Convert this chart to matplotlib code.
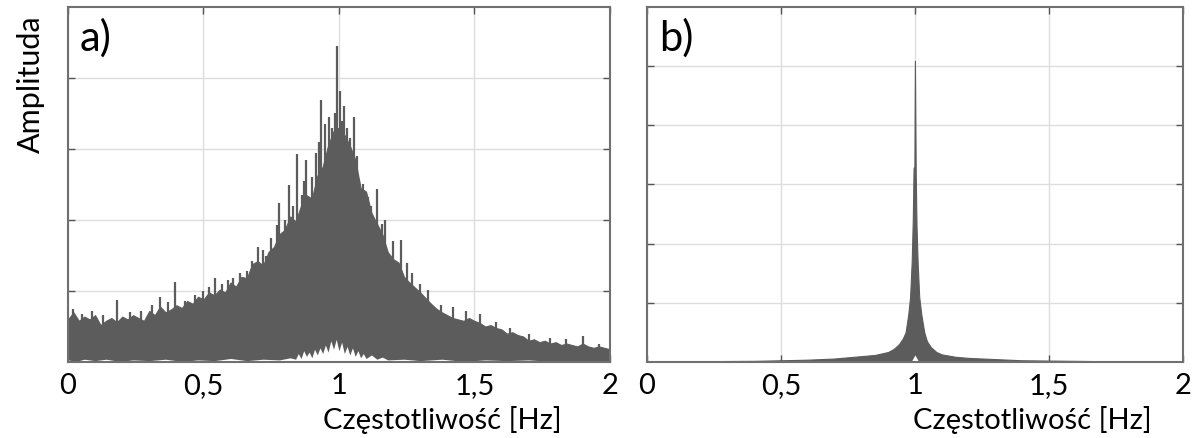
import numpy as np
import matplotlib.pyplot as plt

plt.rcParams['font.family'] = ['Lato', 'DejaVu Sans']

# --- panel a: broad spectrum (upper envelope + white gap under it)
freq_a = np.round(np.arange(0, 2.001, 0.02), 2)
upper_a = [0.60, 0.70, 0.58, 0.64, 0.60, 0.66, 0.52, 0.58, 0.62, 0.56,
           0.64, 0.60, 0.66, 0.62, 0.58, 0.72, 0.66, 0.78, 0.70, 0.74,
           0.80, 0.76, 0.86, 0.82, 0.92, 0.88, 0.98, 0.94, 1.02, 0.98,
           1.12, 1.06, 1.20, 1.18, 1.38, 1.42, 1.36, 1.55, 1.62, 1.80,
           1.86, 2.05, 1.98, 2.20, 2.35, 2.30, 2.62, 2.75, 3.05, 3.25,
           3.30, 3.20, 3.05, 2.85, 2.45, 2.40, 2.10, 1.95, 1.80, 1.55,
           1.45, 1.40, 1.20, 1.12, 1.05, 0.98, 0.90, 0.82, 0.75, 0.70,
           0.66, 0.62, 0.60, 0.58, 0.62, 0.58, 0.55, 0.50, 0.52, 0.48,
           0.46, 0.40, 0.42, 0.38, 0.36, 0.30, 0.32, 0.28, 0.30, 0.26,
           0.28, 0.24, 0.26, 0.24, 0.22, 0.26, 0.22, 0.20, 0.22, 0.20,
           0.18]
gap_freq_a = [0.00, 0.03, 0.06, 0.10, 0.14, 0.19, 0.24, 0.30, 0.36, 0.42, 0.48, 0.54,
              0.60, 0.66, 0.72, 0.78, 0.82, 0.84, 0.85, 0.86, 0.87, 0.88, 0.89, 0.90,
              0.91, 0.92, 0.93, 0.94, 0.95, 0.96, 0.97, 0.98, 0.99, 1.00, 1.01, 1.02,
              1.03, 1.04, 1.05, 1.06, 1.07, 1.08, 1.09, 1.10, 1.12, 1.14, 1.16, 1.18,
              1.24, 1.30, 1.38, 1.46, 1.54, 1.62, 1.70, 1.78, 1.86, 1.94, 2.00]
gap_a = [0.03, 0.01, 0.04, 0.02, 0.04, 0.01, 0.03, 0.02, 0.04, 0.01, 0.03, 0.02,
         0.05, 0.02, 0.04, 0.03, 0.06, 0.04, 0.12, 0.05, 0.16, 0.08, 0.14, 0.06,
         0.18, 0.10, 0.20, 0.12, 0.24, 0.14, 0.30, 0.18, 0.32, 0.16, 0.28, 0.12,
         0.22, 0.10, 0.20, 0.08, 0.16, 0.06, 0.12, 0.05, 0.10, 0.04, 0.07, 0.03,
         0.04, 0.02, 0.04, 0.01, 0.03, 0.02, 0.03, 0.01, 0.02, 0.01, 0.01]
spike_freq_a = [0.02, 0.05, 0.09, 0.13, 0.18, 0.23, 0.27, 0.31, 0.34, 0.37, 0.395, 0.43,
                0.47, 0.50, 0.52, 0.542, 0.57, 0.59, 0.61, 0.635, 0.66, 0.68, 0.70, 0.72,
                0.73, 0.749, 0.77, 0.78, 0.80, 0.816, 0.83, 0.845, 0.862, 0.87, 0.88,
                0.90, 0.915, 0.925, 0.933, 0.95, 0.965, 0.975, 0.985, 0.993, 1.004, 1.012,
                1.02, 1.03, 1.04, 1.055, 1.065, 1.075, 1.09, 1.107, 1.12, 1.14, 1.16,
                1.17, 1.20, 1.23, 1.25, 1.27, 1.30, 1.33, 1.375, 1.42, 1.47, 1.52, 1.58,
                1.63, 1.70, 1.78, 1.84, 1.90, 1.96]
spike_amp_a = [0.74, 0.68, 0.72, 0.66, 0.88, 0.70, 0.72, 0.80, 0.91, 0.84, 1.12, 0.86,
               0.95, 1.00, 1.05, 1.19, 1.10, 1.16, 1.18, 1.26, 1.28, 1.42, 1.62, 1.58,
               1.50, 1.75, 1.93, 2.24, 2.00, 2.49, 2.20, 2.93, 2.35, 2.55, 2.84,
               2.60, 2.95, 3.10, 3.69, 3.35, 3.45, 3.30, 3.50, 4.45, 3.82, 3.40,
               3.61, 3.30, 3.15, 3.45, 2.90, 2.55, 2.50, 2.32, 2.20, 2.43, 1.95,
               2.00, 1.70, 1.72, 1.40, 1.25, 1.10, 1.02, 0.81, 0.78, 0.72, 0.68, 0.56,
               0.48, 0.40, 0.34, 0.32, 0.36, 0.26]

# --- panel b: narrow resonance peak
freq_b = [0.0, 0.2, 0.4, 0.5, 0.6, 0.7, 0.75, 0.80, 0.85, 0.88, 0.90, 0.92, 0.94,
          0.955, 0.965, 0.975, 0.982, 0.988, 0.992, 0.995, 0.998, 1.000, 1.003,
          1.006, 1.010, 1.016, 1.024, 1.035, 1.045, 1.06, 1.08, 1.10, 1.15, 1.2,
          1.3, 1.4, 1.5, 1.7, 2.0]
upper_b = [0.01, 0.015, 0.02, 0.03, 0.04, 0.06, 0.08, 0.10, 0.12, 0.15, 0.17, 0.22, 0.30,
           0.40, 0.50, 0.80, 1.10, 1.70, 2.40, 3.28, 3.30, 5.09, 3.20,
           2.30, 1.70, 1.10, 0.80, 0.50, 0.35, 0.25, 0.17, 0.13, 0.09, 0.07,
           0.05, 0.03, 0.025, 0.015, 0.01]
gap_freq_b = [0.0, 0.985, 0.995, 1.0, 1.005, 1.015, 2.0]
gap_b = [0.0, 0.0, 0.08, 0.12, 0.08, 0.0, 0.0]

tick_pos = [0, 0.5, 1, 1.5, 2]
tick_lbl = ['0', '0,5', '1', '1,5', '2']
GRAY = '#5c5c5c'

fig = plt.figure(figsize=(12.04, 4.39), dpi=100)
ax_a = fig.add_axes([0.0565, 0.173, 0.450, 0.809])
ax_b = fig.add_axes([0.5374, 0.173, 0.445, 0.809])

ax_a.fill_between(freq_a, 0, upper_a, color=GRAY, lw=0.8, zorder=2)
ax_a.vlines(spike_freq_a, 0, spike_amp_a, color=GRAY, lw=1.6, zorder=2)
ax_a.fill_between(gap_freq_a, 0, gap_a, color='white', lw=0, zorder=2.5)
ax_a.set_ylim(0, 5)

ax_b.fill_between(freq_b, 0, upper_b, color=GRAY, lw=0.8, zorder=2)
ax_b.fill_between(gap_freq_b, 0, gap_b, color='white', lw=0, zorder=2.5)
ax_b.set_ylim(0, 6)

for ax, lab, xl in [(ax_a, 'a)', 0.69), (ax_b, 'b)', 0.72)]:
    ax.set_xlim(0, 2)
    ax.set_xticks(tick_pos)
    ax.set_xticklabels(tick_lbl, fontsize=21)
    ax.set_yticks(np.arange(1, ax.get_ylim()[1]))
    ax.set_yticklabels([])
    ax.grid(True, color='#dddddd', lw=1.0, zorder=0)
    ax.set_axisbelow(True)
    ax.tick_params(direction='in', length=5, width=1, color='#555555',
                   top=True, right=True, pad=7)
    for s in ax.spines.values():
        s.set_color('#707070')
        s.set_linewidth(1.5)
        s.set_zorder(3)
    ax.text(0.022, 0.972, lab, transform=ax.transAxes, fontsize=30, va='top', ha='left')
    ax.set_xlabel('Częstotliwość [Hz]', fontsize=21, x=xl, labelpad=5)

ax_a.set_ylabel('Amplituda', fontsize=22, y=0.785, labelpad=10)

fig.savefig('out.png', dpi=100)
